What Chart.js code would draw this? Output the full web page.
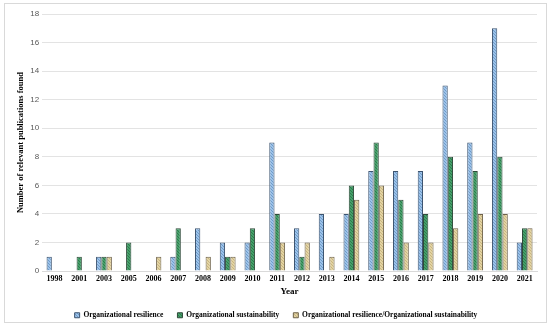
<!DOCTYPE html>
<html>
<head>
<meta charset="utf-8">
<script src="https://cdn.jsdelivr.net/npm/chart.js@4"></script>
<style>
  body { margin: 0; background: #fff; overflow: hidden; }
  #marco { position: absolute; left: 4px; top: 3px; width: 543px; height: 320px; border: 1px solid #d9d9d9; box-sizing: border-box; }
  #wrap { position: absolute; left: 4px; top: 0; width: 543px; height: 329px; }
</style>
</head>
<body>
<div id="marco"></div>
<div id="wrap"><canvas id="grafica"></canvas></div>
<script>
// Eje X
const anios = ["1998", "2001", "2003", "2005", "2006", "2007", "2008", "2009", "2010", "2011",
  "2012", "2013", "2014", "2015", "2016", "2017", "2018", "2019", "2020", "2021"];
// Datos
const resiliencia = [1, 0, 1, 0, 0, 1, 3, 2, 2, 9, 3, 4, 4, 7, 7, 7, 13, 9, 17, 2];
const sostenibilidad = [0, 1, 1, 2, 0, 3, 0, 1, 3, 4, 1, 0, 6, 9, 5, 4, 8, 7, 8, 3];
const ambas = [0, 0, 1, 0, 1, 0, 1, 1, 0, 2, 2, 1, 5, 6, 2, 2, 3, 4, 4, 3];

const serif = "'Liberation Serif', 'Times New Roman', serif";

// relleno con textura (como el original)
function trama(base, linea) {
  const c = document.createElement("canvas");
  c.width = 3; c.height = 3;
  const g = c.getContext("2d");
  g.fillStyle = base;
  g.fillRect(0, 0, 3, 3);
  g.fillStyle = linea;
  g.fillRect(0, 0, 1, 1);
  g.fillRect(1, 1, 1, 1);
  g.fillRect(2, 2, 1, 1);
  return g.createPattern(c, "repeat");
}

const ctx = document.getElementById("grafica").getContext("2d");
new Chart(ctx, {
  type: "bar",
  data: {
    labels: anios,
    datasets: [
      {
        label: "Organizational resilience",
        data: resiliencia,
        backgroundColor: trama("#9cc2ea", "#6f9cc8"),
        borderColor: "#3d5470",
        borderWidth: 1,
      },
      {
        label: "Organizational sustainability",
        data: sostenibilidad,
        backgroundColor: trama("#45a06a", "#2f7a4c"),
        borderColor: "#2f4a3a",
        borderWidth: 1,
      },
      {
        label: "Organizational resilience/Organizational sustainability",
        data: ambas,
        backgroundColor: trama("#e2d3a3", "#c9b57e"),
        borderColor: "#6e624a",
        borderWidth: 1,
      },
    ],
  },
  options: {
    responsive: true,
    maintainAspectRatio: false,
    animation: false,
    layout: { padding: { left: 11, right: 10, top: 14, bottom: 0 } },
    datasets: { bar: { categoryPercentage: 0.64, barPercentage: 1.0 } },
    scales: {
      x: {
        grid: { display: false, drawTicks: false },
        border: { color: "#d9d9d9" },
        ticks: { font: { family: serif, size: 8, weight: "bold" }, color: "#000", maxRotation: 0, padding: 3 },
        title: { display: true, text: "Year", font: { family: serif, size: 9, weight: "bold" }, color: "#000", padding: 0 },
      },
      y: {
        min: 0,
        max: 18,
        ticks: { stepSize: 2, font: { family: "'Liberation Sans', Arial, sans-serif", size: 8 }, color: "#595959", padding: 3 },
        grid: { color: "#e3e3e3", drawTicks: false },
        border: { display: false },
        title: { display: true, text: "Number of relevant publications found", font: { family: serif, size: 8.5, weight: "bold" }, color: "#000", padding: 1 },
      },
    },
    plugins: {
      legend: {
        position: "bottom",
        labels: { font: { family: serif, size: 7.5, weight: "bold" }, color: "#000", boxWidth: 5, boxHeight: 5, padding: 14 },
      },
      tooltip: { enabled: false },
    },
  },
});
</script>
</body>
</html>
